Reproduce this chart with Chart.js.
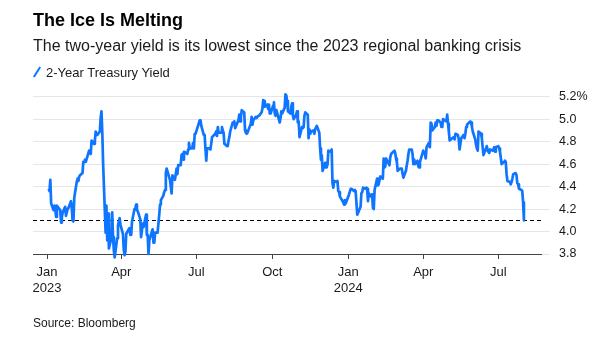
<!DOCTYPE html>
<html>
<head>
<meta charset="utf-8">
<script src="https://cdn.jsdelivr.net/npm/chart.js@4.4.1/dist/chart.umd.min.js"></script>
<style>
  html, body { margin: 0; padding: 0; background: #fff; }
  body { width: 602px; height: 342px; position: relative; overflow: hidden;
         font-family: "Liberation Sans", Arial, sans-serif; color: #000; }
  canvas { position: absolute; left: 0; top: 0; }
  .txt { position: absolute; left: 33px; white-space: nowrap; line-height: 1; }
  #title { top: 11px; font-size: 18px; font-weight: bold; }
  #sub { top: 38px; font-size: 16px; color: #1a1a1a; }
  #legend { top: 65.5px; font-size: 13px; color: #1a1a1a; left: 46px; }
  #slash { position: absolute; left: 36px; top: 66px; width: 2px; height: 12px;
           background: #0f75ff; transform: rotate(32deg); }
  #source { top: 317px; font-size: 12px; color: #1a1a1a; }
</style>
</head>
<body>
<canvas id="chart" width="602" height="342"></canvas>
<div class="txt" id="title">The Ice Is Melting</div>
<div class="txt" id="sub">The two-year yield is its lowest since the 2023 regional banking crisis</div>
<div id="slash"></div>
<div class="txt" id="legend">2-Year Treasury Yield</div>
<div class="txt" id="source">Source: Bloomberg</div>
<script>
// 2-year Treasury yield, % (one line per month)
const dates = [
  "2023-01-03","2023-01-04","2023-01-05","2023-01-06","2023-01-09","2023-01-10","2023-01-11","2023-01-12","2023-01-13","2023-01-17","2023-01-18","2023-01-19","2023-01-20","2023-01-23","2023-01-24","2023-01-25","2023-01-26","2023-01-27","2023-01-30","2023-01-31",
  "2023-02-01","2023-02-02","2023-02-03","2023-02-06","2023-02-07","2023-02-08","2023-02-09","2023-02-10","2023-02-13","2023-02-14","2023-02-15","2023-02-16","2023-02-17","2023-02-21","2023-02-22","2023-02-23","2023-02-24","2023-02-27","2023-02-28",
  "2023-03-01","2023-03-02","2023-03-03","2023-03-06","2023-03-07","2023-03-08","2023-03-09","2023-03-10","2023-03-13","2023-03-14","2023-03-15","2023-03-16","2023-03-17","2023-03-20","2023-03-21","2023-03-22","2023-03-23","2023-03-24","2023-03-27","2023-03-28","2023-03-29","2023-03-30","2023-03-31",
  "2023-04-03","2023-04-04","2023-04-05","2023-04-06","2023-04-07","2023-04-10","2023-04-11","2023-04-12","2023-04-13","2023-04-14","2023-04-17","2023-04-18","2023-04-19","2023-04-20","2023-04-21","2023-04-24","2023-04-25","2023-04-26","2023-04-27","2023-04-28",
  "2023-05-01","2023-05-02","2023-05-03","2023-05-04","2023-05-05","2023-05-08","2023-05-09","2023-05-10","2023-05-11","2023-05-12","2023-05-15","2023-05-16","2023-05-17","2023-05-18","2023-05-19","2023-05-22","2023-05-23","2023-05-24","2023-05-25","2023-05-26","2023-05-30","2023-05-31",
  "2023-06-01","2023-06-02","2023-06-05","2023-06-06","2023-06-07","2023-06-08","2023-06-09","2023-06-12","2023-06-13","2023-06-14","2023-06-15","2023-06-16","2023-06-20","2023-06-21","2023-06-22","2023-06-23","2023-06-26","2023-06-27","2023-06-28","2023-06-29","2023-06-30",
  "2023-07-03","2023-07-05","2023-07-06","2023-07-07","2023-07-10","2023-07-11","2023-07-12","2023-07-13","2023-07-14","2023-07-17","2023-07-18","2023-07-19","2023-07-20","2023-07-21","2023-07-24","2023-07-25","2023-07-26","2023-07-27","2023-07-28","2023-07-31",
  "2023-08-01","2023-08-02","2023-08-03","2023-08-04","2023-08-07","2023-08-08","2023-08-09","2023-08-10","2023-08-11","2023-08-14","2023-08-15","2023-08-16","2023-08-17","2023-08-18","2023-08-21","2023-08-22","2023-08-23","2023-08-24","2023-08-25","2023-08-28","2023-08-29","2023-08-30","2023-08-31",
  "2023-09-01","2023-09-05","2023-09-06","2023-09-07","2023-09-08","2023-09-11","2023-09-12","2023-09-13","2023-09-14","2023-09-15","2023-09-18","2023-09-19","2023-09-20","2023-09-21","2023-09-22","2023-09-25","2023-09-26","2023-09-27","2023-09-28","2023-09-29",
  "2023-10-02","2023-10-03","2023-10-04","2023-10-05","2023-10-06","2023-10-10","2023-10-11","2023-10-12","2023-10-13","2023-10-16","2023-10-17","2023-10-18","2023-10-19","2023-10-20","2023-10-23","2023-10-24","2023-10-25","2023-10-26","2023-10-27","2023-10-30","2023-10-31",
  "2023-11-01","2023-11-02","2023-11-03","2023-11-06","2023-11-07","2023-11-08","2023-11-09","2023-11-10","2023-11-13","2023-11-14","2023-11-15","2023-11-16","2023-11-17","2023-11-20","2023-11-21","2023-11-22","2023-11-24","2023-11-27","2023-11-28","2023-11-29","2023-11-30",
  "2023-12-01","2023-12-04","2023-12-05","2023-12-06","2023-12-07","2023-12-08","2023-12-11","2023-12-12","2023-12-13","2023-12-14","2023-12-15","2023-12-18","2023-12-19","2023-12-20","2023-12-21","2023-12-22","2023-12-26","2023-12-27","2023-12-28","2023-12-29",
  "2024-01-02","2024-01-03","2024-01-04","2024-01-05","2024-01-08","2024-01-09","2024-01-10","2024-01-11","2024-01-12","2024-01-16","2024-01-17","2024-01-18","2024-01-19","2024-01-22","2024-01-23","2024-01-24","2024-01-25","2024-01-26","2024-01-29","2024-01-30","2024-01-31",
  "2024-02-01","2024-02-02","2024-02-05","2024-02-06","2024-02-07","2024-02-08","2024-02-09","2024-02-12","2024-02-13","2024-02-14","2024-02-15","2024-02-16","2024-02-20","2024-02-21","2024-02-22","2024-02-23","2024-02-26","2024-02-27","2024-02-28","2024-02-29",
  "2024-03-01","2024-03-04","2024-03-05","2024-03-06","2024-03-07","2024-03-08","2024-03-11","2024-03-12","2024-03-13","2024-03-14","2024-03-15","2024-03-18","2024-03-19","2024-03-20","2024-03-21","2024-03-22","2024-03-25","2024-03-26","2024-03-27","2024-03-28",
  "2024-04-01","2024-04-02","2024-04-03","2024-04-04","2024-04-05","2024-04-08","2024-04-09","2024-04-10","2024-04-11","2024-04-12","2024-04-15","2024-04-16","2024-04-17","2024-04-18","2024-04-19","2024-04-22","2024-04-23","2024-04-24","2024-04-25","2024-04-26","2024-04-29","2024-04-30",
  "2024-05-01","2024-05-02","2024-05-03","2024-05-06","2024-05-07","2024-05-08","2024-05-09","2024-05-10","2024-05-13","2024-05-14","2024-05-15","2024-05-16","2024-05-17","2024-05-20","2024-05-21","2024-05-22","2024-05-23","2024-05-24","2024-05-28","2024-05-29","2024-05-30","2024-05-31",
  "2024-06-03","2024-06-04","2024-06-05","2024-06-06","2024-06-07","2024-06-10","2024-06-11","2024-06-12","2024-06-13","2024-06-14","2024-06-17","2024-06-18","2024-06-20","2024-06-21","2024-06-24","2024-06-25","2024-06-26","2024-06-27","2024-06-28",
  "2024-07-01","2024-07-02","2024-07-03","2024-07-05","2024-07-08","2024-07-09","2024-07-10","2024-07-11","2024-07-12","2024-07-15","2024-07-16","2024-07-17","2024-07-18","2024-07-19","2024-07-22","2024-07-23","2024-07-24","2024-07-25","2024-07-26","2024-07-29","2024-07-30","2024-07-31",
  "2024-08-01"
];
const yields = [
  4.38,4.36,4.46,4.25,4.19,4.23,4.20,4.13,4.23,4.19,4.08,4.13,4.17,4.22,4.14,4.14,4.20,4.21,4.27,4.21,
  4.10,4.09,4.30,4.44,4.47,4.45,4.49,4.50,4.52,4.62,4.62,4.64,4.62,4.72,4.70,4.69,4.81,4.78,4.81,
  4.89,4.86,4.86,4.89,5.01,5.07,4.88,4.60,3.99,4.23,3.92,4.16,3.85,3.94,4.17,3.95,3.83,3.77,3.94,4.05,4.09,4.12,4.06,
  3.98,3.84,3.79,3.82,3.98,4.02,4.03,3.97,3.97,4.09,4.20,4.20,4.24,4.19,4.18,4.11,3.95,3.95,4.07,4.04,
  4.15,3.97,3.97,3.80,3.92,4.00,4.02,3.90,3.90,3.99,3.99,4.07,4.15,4.24,4.28,4.32,4.35,4.37,4.52,4.56,4.46,4.40,
  4.34,4.50,4.46,4.51,4.56,4.51,4.59,4.59,4.68,4.69,4.64,4.71,4.69,4.73,4.79,4.74,4.74,4.79,4.74,4.87,4.87,
  4.94,4.99,4.99,4.94,4.86,4.86,4.74,4.63,4.74,4.74,4.73,4.78,4.84,4.84,4.87,4.89,4.85,4.93,4.88,4.88,
  4.93,4.90,4.88,4.78,4.76,4.76,4.81,4.84,4.89,4.97,4.96,4.98,4.92,4.92,4.99,5.04,4.98,5.02,5.08,5.06,4.90,4.88,4.87,
  4.88,4.96,5.02,4.95,4.99,5.02,5.01,5.02,5.03,5.03,5.06,5.09,5.17,5.16,5.11,5.13,5.09,5.13,5.05,5.05,
  5.12,5.15,5.05,5.03,5.08,4.97,5.01,5.07,5.05,5.10,5.22,5.21,5.16,5.07,5.05,5.11,5.14,5.03,5.00,5.04,5.07,
  4.97,4.98,4.84,4.93,4.92,4.93,5.03,5.06,5.04,4.83,4.91,4.87,4.89,4.90,4.87,4.91,4.94,4.88,4.74,4.64,4.68,
  4.54,4.61,4.57,4.57,4.60,4.72,4.71,4.73,4.43,4.39,4.45,4.44,4.45,4.36,4.35,4.31,4.26,4.24,4.28,4.25,
  4.33,4.33,4.38,4.38,4.36,4.37,4.36,4.26,4.15,4.22,4.34,4.35,4.39,4.38,4.39,4.38,4.27,4.34,4.31,4.33,4.21,
  4.20,4.37,4.47,4.41,4.42,4.46,4.49,4.47,4.65,4.57,4.58,4.65,4.59,4.66,4.69,4.69,4.72,4.70,4.65,4.62,
  4.54,4.56,4.56,4.56,4.51,4.48,4.54,4.59,4.63,4.69,4.73,4.73,4.69,4.60,4.64,4.60,4.63,4.58,4.57,4.62,
  4.72,4.70,4.69,4.65,4.75,4.79,4.75,4.97,4.96,4.90,4.93,4.97,4.94,4.99,4.99,4.97,4.93,4.93,5.00,5.00,4.98,5.04,
  4.96,4.89,4.81,4.83,4.83,4.84,4.82,4.87,4.86,4.82,4.73,4.78,4.83,4.86,4.83,4.87,4.93,4.95,4.98,4.97,4.93,4.89,
  4.82,4.77,4.74,4.72,4.89,4.87,4.83,4.75,4.68,4.70,4.76,4.72,4.70,4.73,4.72,4.73,4.75,4.71,4.75,
  4.76,4.74,4.71,4.60,4.62,4.63,4.62,4.51,4.45,4.44,4.42,4.44,4.47,4.51,4.52,4.50,4.43,4.42,4.38,4.37,4.36,4.26,
  4.10
];

const yTicks = [3.8, 4.0, 4.2, 4.4, 4.6, 4.8, 5.0, 5.2];
const xTickDates = ["2023-01-01","2023-04-01","2023-07-01","2023-10-01","2024-01-01","2024-04-01","2024-07-01"];
const xTickLabels = [["Jan","2023"],"Apr","Jul","Oct",["Jan","2024"],"Apr","Jul"];
const latest = yields[yields.length - 1];

const ORIGIN = Date.UTC(2023, 0, 1);
function dayOf(s) {
  const [y, m, d] = s.split("-").map(Number);
  return (Date.UTC(y, m - 1, d) - ORIGIN) / 864e5;
}

const FONT = '"Liberation Sans", Arial, sans-serif';

// dashed reference line at the latest reading
const latestLine = {
  id: "latestLine",
  beforeDatasetsDraw(chart) {
    const { ctx, chartArea, scales } = chart;
    const y = Math.round(scales.y.getPixelForValue(latest)) + 0.5;
    ctx.save();
    ctx.strokeStyle = "#000";
    ctx.lineWidth = 1.2;
    ctx.setLineDash([4, 3]);
    ctx.beginPath();
    ctx.moveTo(chartArea.left, y);
    ctx.lineTo(chartArea.right, y);
    ctx.stroke();
    ctx.restore();
  }
};

new Chart(document.getElementById("chart").getContext("2d"), {
  type: "line",
  data: {
    datasets: [{
      label: "2-Year Treasury Yield",
      data: dates.map((d, i) => ({ x: dayOf(d), y: yields[i] })),
      borderColor: "#0f75ff",
      borderWidth: 2.7,
      pointRadius: 0,
      tension: 0,
      borderJoinStyle: "round",
      clip: false
    }]
  },
  options: {
    responsive: false,
    animation: false,
    layout: { padding: { left: 33, right: 0, top: 88.8, bottom: 48 } },
    plugins: { legend: { display: false }, tooltip: { enabled: false } },
    scales: {
      x: {
        type: "linear",
        min: -17,
        max: 598.7,
        afterFit: s => { s.height = 40; },
        afterBuildTicks: s => { s.ticks = xTickDates.map(d => ({ value: dayOf(d) })); },
        grid: { drawOnChartArea: false, drawTicks: true, tickLength: 5, color: "#444", lineWidth: 1 },
        border: { display: true, color: "#444", width: 1 },
        ticks: {
          autoSkip: false, maxRotation: 0, padding: 5, color: "#1a1a1a",
          font: { family: FONT, size: 13, lineHeight: 1.25 },
          callback: (v, i) => xTickLabels[i]
        }
      },
      y: {
        position: "right",
        min: 3.8,
        max: 5.27,
        afterFit: s => { s.width = 61; },
        afterBuildTicks: s => { s.ticks = yTicks.map(v => ({ value: v })); },
        grid: { color: "#e6e6e6", lineWidth: 1, drawTicks: true, tickLength: 9 },
        border: { display: false },
        ticks: {
          padding: 9, color: "#1a1a1a",
          font: { family: FONT, size: 12.5 },
          callback: v => v === 5.2 ? "5.2%" : v.toFixed(1)
        }
      }
    }
  },
  plugins: [latestLine]
});
</script>
</body>
</html>
